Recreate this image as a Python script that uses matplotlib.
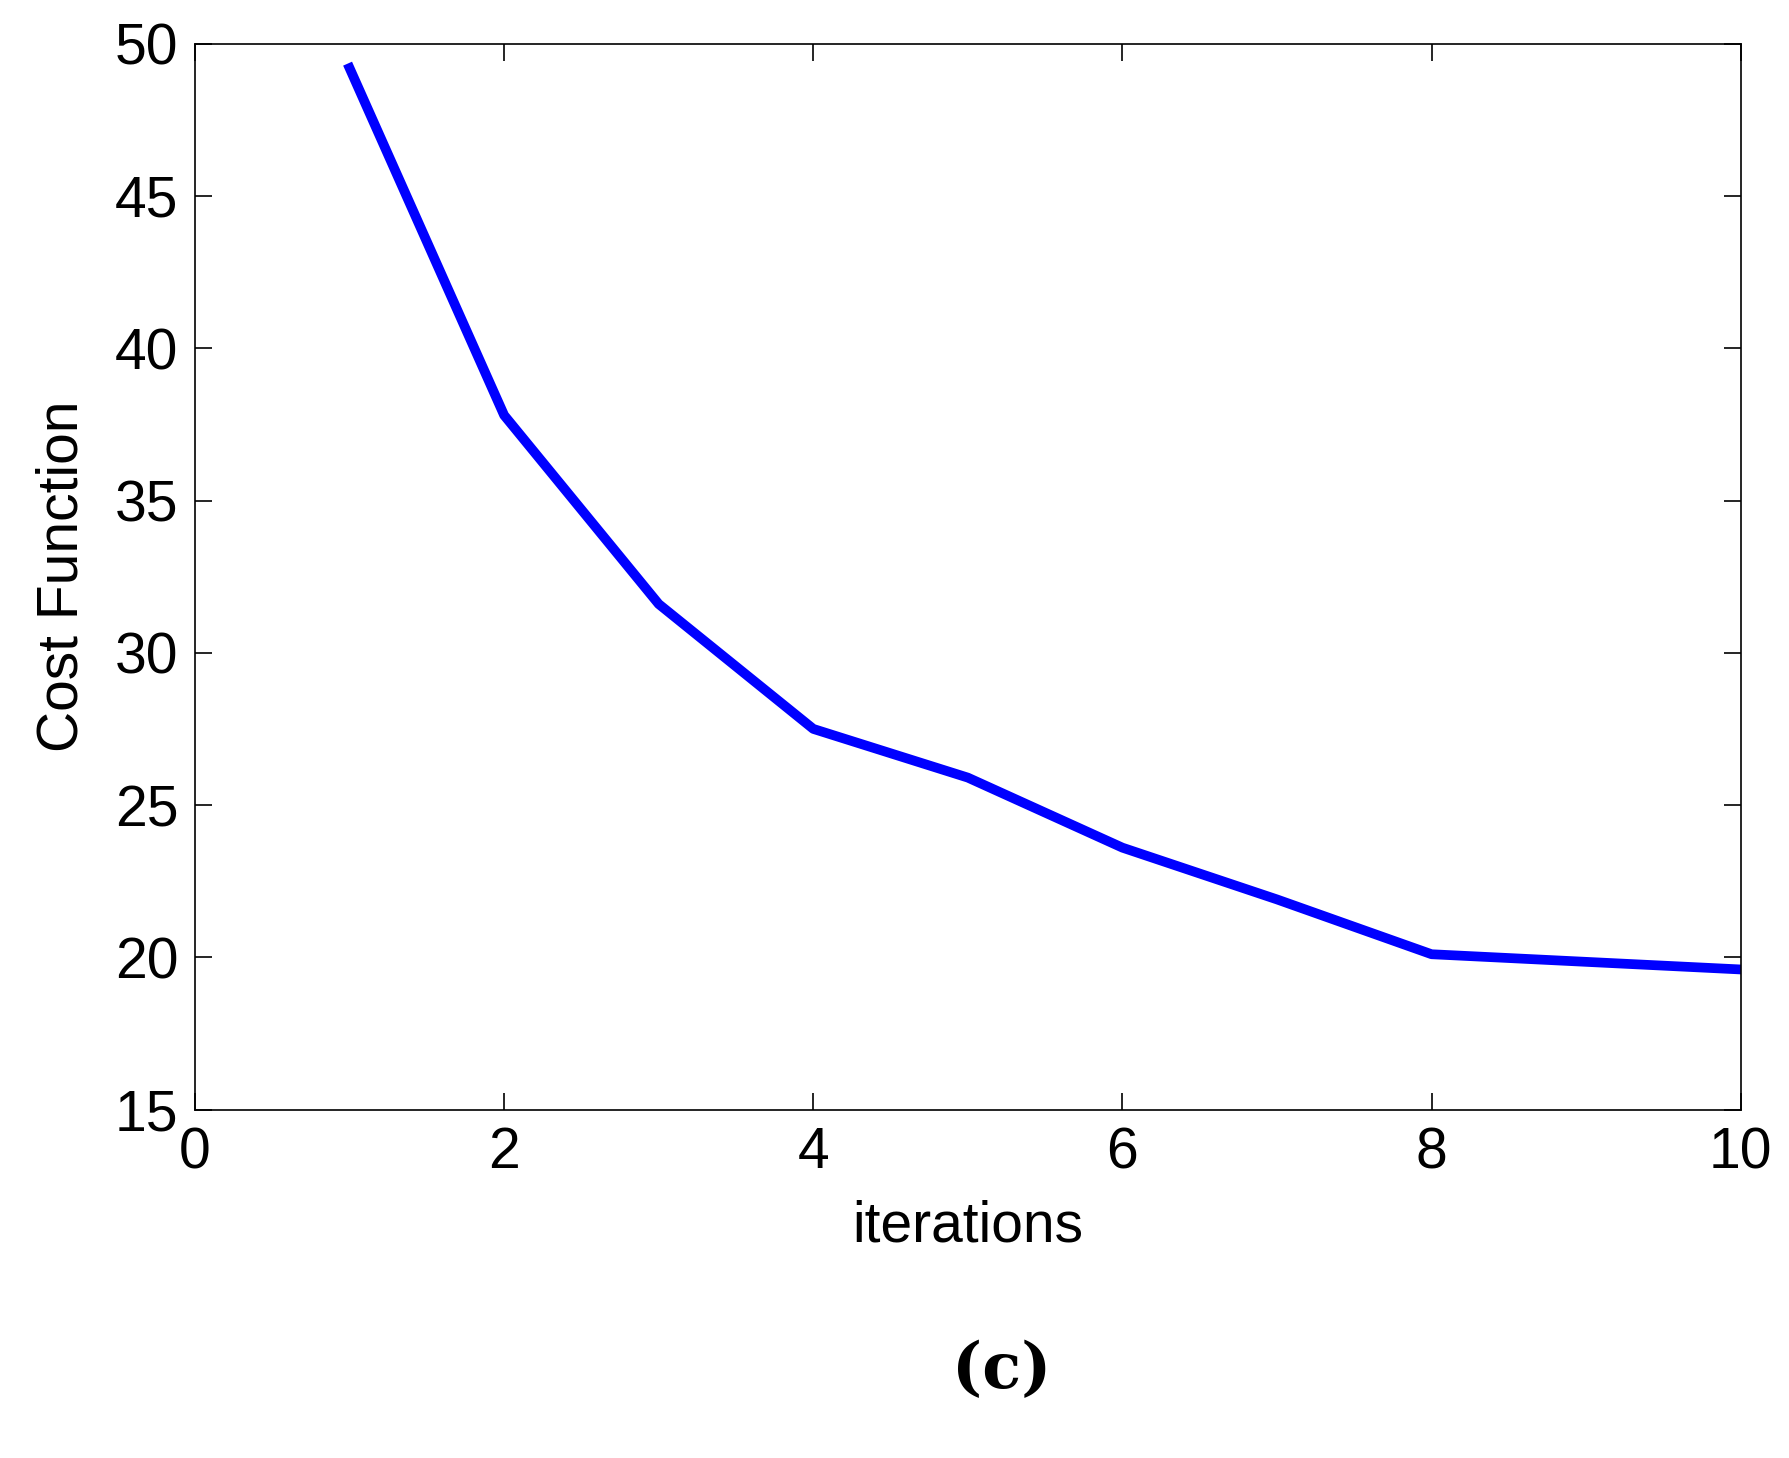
import matplotlib
matplotlib.use("Agg")
import matplotlib.pyplot as plt

iterations = [1, 2, 3, 4, 5, 6, 7, 8, 9, 10]
cost = [49.2, 37.8, 31.6, 27.5, 25.9, 23.6, 21.9, 20.1, 19.85, 19.6]
xticks = [0, 2, 4, 6, 8, 10]
yticks = [15, 20, 25, 30, 35, 40, 45, 50]

plt.rcParams['font.family'] = ['Liberation Sans', 'DejaVu Sans']
fig = plt.figure(figsize=(17.89, 14.58), dpi=100)
ax = fig.add_axes([0.109, 0.239, 0.864, 0.731])
ax.plot(iterations, cost, color='#0000ff', linewidth=7)
ax.set_xlim(0, 10)
ax.set_ylim(15, 50)
ax.set_xticks(xticks)
ax.tick_params(direction='in', length=12, width=1.2, labelsize=41, top=True, right=True, pad=12)
ax.set_yticks(yticks)
for s in ax.spines.values():
    s.set_linewidth(1.2)
ax.set_xlabel('iterations', fontsize=41, labelpad=14)
ax.set_ylabel('Cost Function', fontsize=41, labelpad=18)
fig.text(0.56, 0.06, '(c)', fontsize=46, fontweight='bold', family='DejaVu Serif', ha='center', va='center')
fig.savefig('out.png', dpi=100, facecolor='white')
